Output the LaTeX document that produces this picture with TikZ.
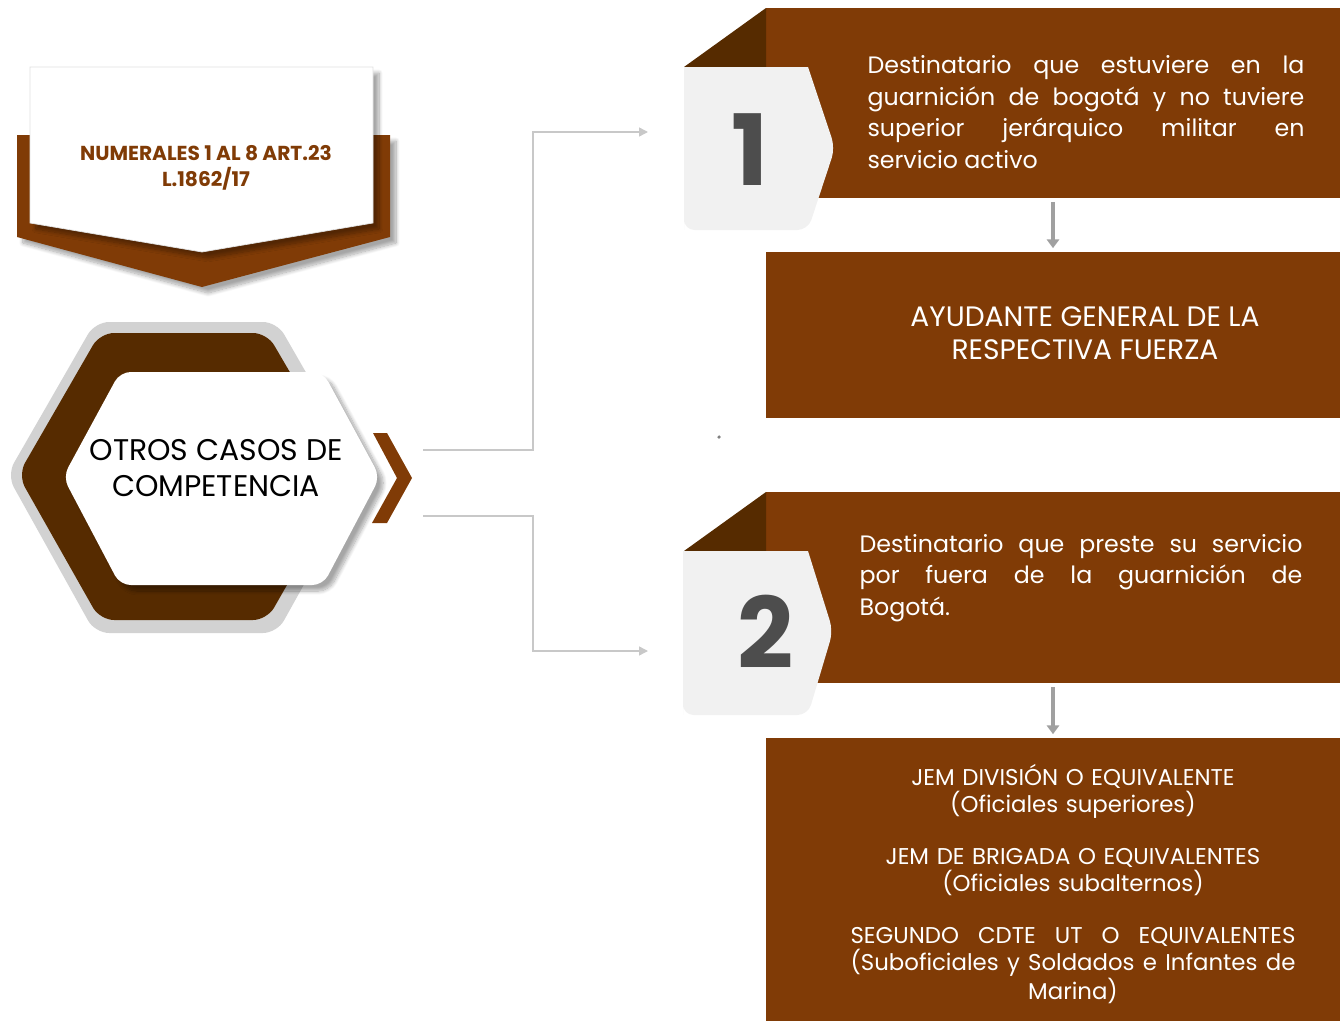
\documentclass[tikz,border=0pt]{standalone}
\usepackage{fontspec}
\setmainfont{Poppins}
\usepackage{tikz}
\usetikzlibrary{positioning}
\usetikzlibrary{arrows.meta,shadows.blur}

\definecolor{brownM}{RGB}{128,59,6}
\definecolor{brownD}{RGB}{86,43,0}
\definecolor{tabGray}{RGB}{241,241,241}
\definecolor{numGray}{RGB}{77,77,77}
\definecolor{hexGray}{RGB}{210,210,210}
\definecolor{lineGray}{RGB}{200,200,200}
\definecolor{arrowGray}{RGB}{160,160,160}

\begin{document}
\begin{tikzpicture}[x=0.02cm,y=-0.02cm,
  brownbox/.style={fill=brownM, minimum width=11.48cm, inner sep=0pt},
  boxtext/.style={text=white, inner sep=0pt},
  numtext/.style={text=numGray, font=\fontsize{56}{56}\selectfont\bfseries},
  conn/.style={draw=lineGray, line width=0.8pt, -{Triangle[length=5pt,width=5pt]}},
  downarrow/.style={draw=arrowGray, line width=2pt, -{Triangle[length=5pt,width=7pt]}, shorten <=2pt, shorten >=2pt},
  softshadow/.style={blur shadow={shadow xshift=1.2mm, shadow yshift=-1.2mm, shadow opacity=35, shadow blur steps=10}}
 ]
\useasboundingbox (0,0) rectangle (1340,1021);

% banner
\fill[brownM, softshadow] (17,135) -- (390,135) -- (390,237) -- (202,287) -- (17,237) -- cycle;
\filldraw[fill=white, draw=black!12, line width=0.4pt, softshadow] (30,67) -- (373,67) -- (373,223) -- (202,252) -- (30,223) -- cycle;
\node[text=brownM,
      align=center,
      font=\fontsize{11.5}{15}\selectfont\bfseries
     ]
     (numerales) at (206,168) {NUMERALES 1 AL 8 ART.23\\L.1862/17};

% hexagon
\fill[hexGray, rounded corners=8pt] (7,475) -- (95,322) -- (277,322) -- (365,475) -- (277,633) -- (95,633) -- cycle;
\fill[brownD, rounded corners=8pt] (18,475) -- (100,333) -- (267,333) -- (350,475) -- (267,620) -- (100,620) -- cycle;
\fill[white, softshadow, rounded corners=6pt] (63,477) -- (120,372) -- (323,372) -- (380,477) -- (323,585) -- (120,585) -- cycle;
\fill[brownM] (373,433) -- (387,433) -- (412,478) -- (387,523) -- (372,523) -- (397,478) -- cycle;
\node[align=center,
      font=\fontsize{17}{20}\selectfont
     ]
     (otros) at (216,468) {OTROS CASOS DE\\COMPETENCIA};

% connectors
\coordinate (out1) at (423,450); \coordinate (in1) at (648,132);
\coordinate (out2) at (423,516); \coordinate (in2) at (648,651);
	\draw[conn] (out1) -- ++(110,0) |- (in1);
	\draw[conn] (out2) -- ++(110,0) |- (in2);

% case 1
\node[brownbox, minimum height=3.8cm] (box1) at (1053,103) {};
\fill[brownD] (684,67) -- (766,8) -- (766,67) -- cycle;
\fill[tabGray] (684,230) -- (684,67) -- (808,67) [rounded corners=6pt] -- (835,148) -- (808,230) -- (684,230) [sharp corners] -- cycle;
\node[numtext] (num1) at (750,150) {1};
\node[boxtext,
      text width=8.74cm,
      align=justify,
      font=\fontsize{13.5}{17.9}\selectfont
     ]
     (dest1) at (1086,112) {Destinatario que estuviere en la\linebreak guarnición de bogotá y no tuviere\linebreak superior jerárquico militar en\linebreak servicio activo};

\node[brownbox, minimum height=3.32cm] (ayud) at (1053,335) {};
\node[boxtext,
      align=center,
      font=\fontsize{16}{18.5}\selectfont
     ]
     (ayudtext) at (1085,333) {AYUDANTE GENERAL DE LA\\RESPECTIVA FUERZA};
	\draw[downarrow] (box1) -- (ayud);
\fill[gray] (719,437) circle (1pt);

% case 2
\node[brownbox, minimum height=3.82cm] (box2) at (1053,587.5) {};
\fill[brownD] (684,551) -- (766,492) -- (766,551) -- cycle;
\fill[tabGray] (683,715) -- (683,551) -- (808,551) [rounded corners=6pt] -- (833,631) -- (808,715) -- (683,715) [sharp corners] -- cycle;
\node[numtext] (num2) at (766,632) {2};
\node[boxtext,
      text width=8.86cm,
      align=justify,
      font=\fontsize{13.5}{17.9}\selectfont
     ]
     (dest2) at (1081,578) {Destinatario que preste su servicio\linebreak por fuera de la guarnición de\linebreak Bogotá.};

\node[brownbox, minimum height=5.8cm] (jem) at (1053,883) {};
\node[boxtext,
      text width=8.9cm,
      align=center,
      font=\fontsize{13}{15}\selectfont
     ]
     (jemtext) at (1073,884) {JEM DIVISIÓN O EQUIVALENTE\\(Oficiales superiores)\\[15pt]
       JEM DE BRIGADA O EQUIVALENTES\\(Oficiales subalternos)\\[15pt]
       \makebox[8.9cm][s]{SEGUNDO\hfill CDTE\hfill UT\hfill O\hfill EQUIVALENTES}\\
       \makebox[8.9cm][s]{(Suboficiales\hfill y\hfill Soldados\hfill e\hfill Infantes\hfill de}\\Marina)};
	\draw[downarrow] (box2) -- (jem);

\end{tikzpicture}
\end{document}
